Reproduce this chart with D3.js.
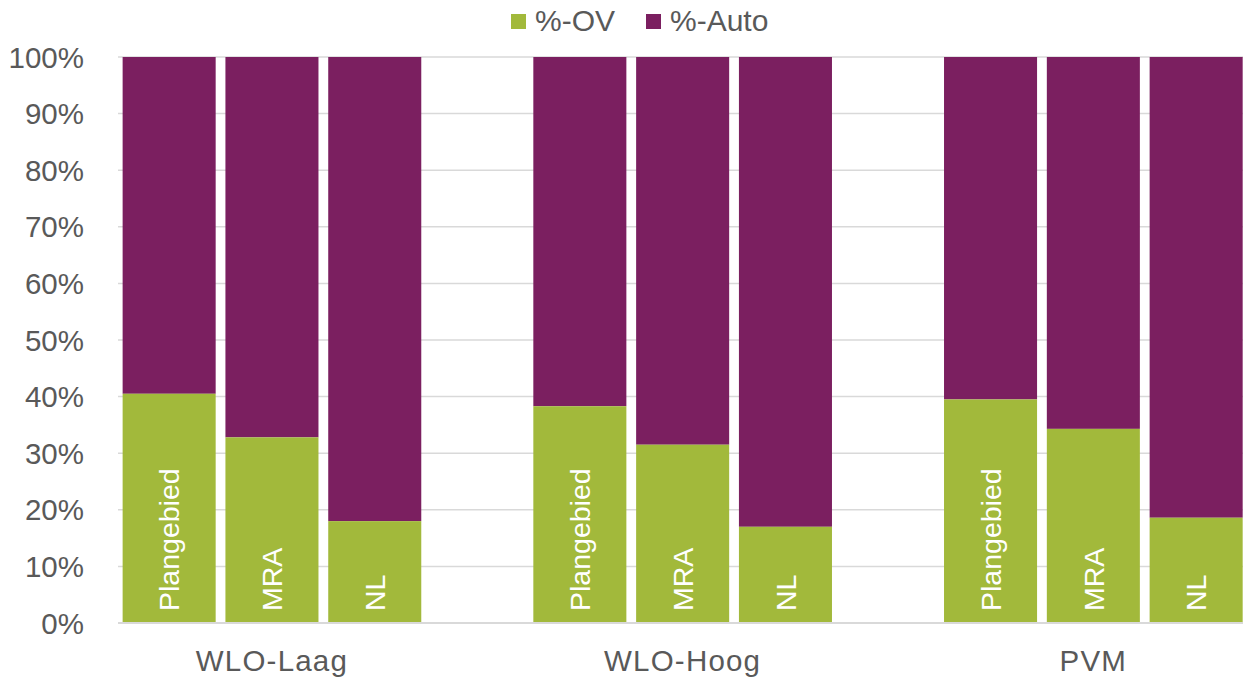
<!DOCTYPE html>
<html lang="nl">
<head>
<meta charset="UTF-8">
<title>OV / Auto</title>
<script src="https://d3js.org/d3.v7.min.js"></script>
<style>
    body { margin: 0; background: #fff; }
    svg text { font-family: "Liberation Sans", Arial, sans-serif; }
    .grid line { stroke: #d9d9d9; stroke-width: 1.5px; }
</style>
</head>
<body>
<div id="chart"></div>
<script>
    // data
    var scenarios = ["WLO-Laag", "WLO-Hoog", "PVM"];
    var areas = ["Plangebied", "MRA", "NL"];
    var pctOV = [
        [40.5, 32.8, 18.0],
        [38.3, 31.5, 17.0],
        [39.5, 34.3, 18.6]
    ];
    var seriesNames = ["%-OV", "%-Auto"];
    var colors = ["#a2b93b", "#7b1f60"];
    var yTicks = [0, 10, 20, 30, 40, 50, 60, 70, 80, 90, 100];

    var W = 1243, H = 680;
    var margin = {top: 57, left: 118, bottom: 57};
    var plotH = H - margin.top - margin.bottom;

    var svg = d3.select("#chart").append("svg")
        .attr("width", W).attr("height", H);

    // each scenario has 4 slots, last one stays empty (chart is cut off on the right)
    var x0 = d3.scaleBand().domain(scenarios).range([margin.left, margin.left + 3 * 410.7]);
    var x1 = d3.scaleBand().domain(areas.concat([""])).range([0, x0.bandwidth()]).paddingInner(0.095).paddingOuter(0.045);
    var y = d3.scaleLinear().domain([0, 100]).range([margin.top + plotH, margin.top]);

    // gridlines
    svg.append("g").attr("class", "grid")
        .selectAll("line").data(yTicks).enter().append("line")
        .attr("x1", margin.left).attr("x2", W)
        .attr("y1", function(d) { return y(d); })
        .attr("y2", function(d) { return y(d); });

    // y labels
    svg.append("g").selectAll("text").data(yTicks).enter().append("text")
        .attr("x", 84).attr("y", function(d) { return y(d); })
        .attr("dy", "0.36em")
        .attr("text-anchor", "end")
        .attr("font-size", 29.5).attr("fill", "#595959")
        .text(function(d) { return d + "%"; });

    // bars
    var rows = [];
    scenarios.forEach(function(s, i) {
        areas.forEach(function(a, j) {
            rows.push({scen: s, area: a, ov: pctOV[i][j]});
        });
    });

    var g = svg.append("g");
    var bx = function(d) { return x0(d.scen) + x1(d.area); };

    g.selectAll(".auto").data(rows).enter().append("rect")
        .attr("x", bx).attr("width", x1.bandwidth())
        .attr("y", y(100))
        .attr("height", function(d) { return y(d.ov) - y(100); })
        .attr("fill", colors[1]);

    g.selectAll(".ov").data(rows).enter().append("rect")
        .attr("x", bx).attr("width", x1.bandwidth())
        .attr("y", function(d) { return y(d.ov); })
        .attr("height", function(d) { return y(0) - y(d.ov); })
        .attr("fill", colors[0]);

    // rotated labels in the bars
    g.selectAll(".lbl").data(rows).enter().append("text")
        .attr("transform", function(d) {
            return "translate(" + (bx(d) + x1.bandwidth() / 2) + "," + (y(0) - 12) + ") rotate(-90)";
        })
        .attr("dy", "0.36em")
        .attr("font-size", 28.5).attr("fill", "#fff")
        .text(function(d) { return d.area; });

    // axis line
    svg.append("line")
        .attr("x1", margin.left).attr("x2", W)
        .attr("y1", y(0)).attr("y2", y(0))
        .attr("stroke", "#d9d9d9").attr("stroke-width", 2);

    // category labels, centred under the three bars
    svg.append("g").selectAll("text").data(scenarios).enter().append("text")
        .attr("x", function(d) { return x0(d) + (x1("Plangebied") + x1("NL") + x1.bandwidth()) / 2; })
        .attr("y", 671)
        .attr("text-anchor", "middle")
        .attr("font-size", 29.5).attr("letter-spacing", 1.2).attr("fill", "#595959")
        .text(function(d) { return d; });

    // legend
    var leg = svg.append("g");
    var legX = [511, 646];
    seriesNames.forEach(function(n, i) {
        leg.append("rect").attr("x", legX[i]).attr("y", 14)
            .attr("width", 15).attr("height", 15).attr("fill", colors[i]);
        leg.append("text").attr("x", legX[i] + 24).attr("y", 31)
            .attr("font-size", 30).attr("fill", "#595959")
            .text(n);
    });
</script>
</body>
</html>
